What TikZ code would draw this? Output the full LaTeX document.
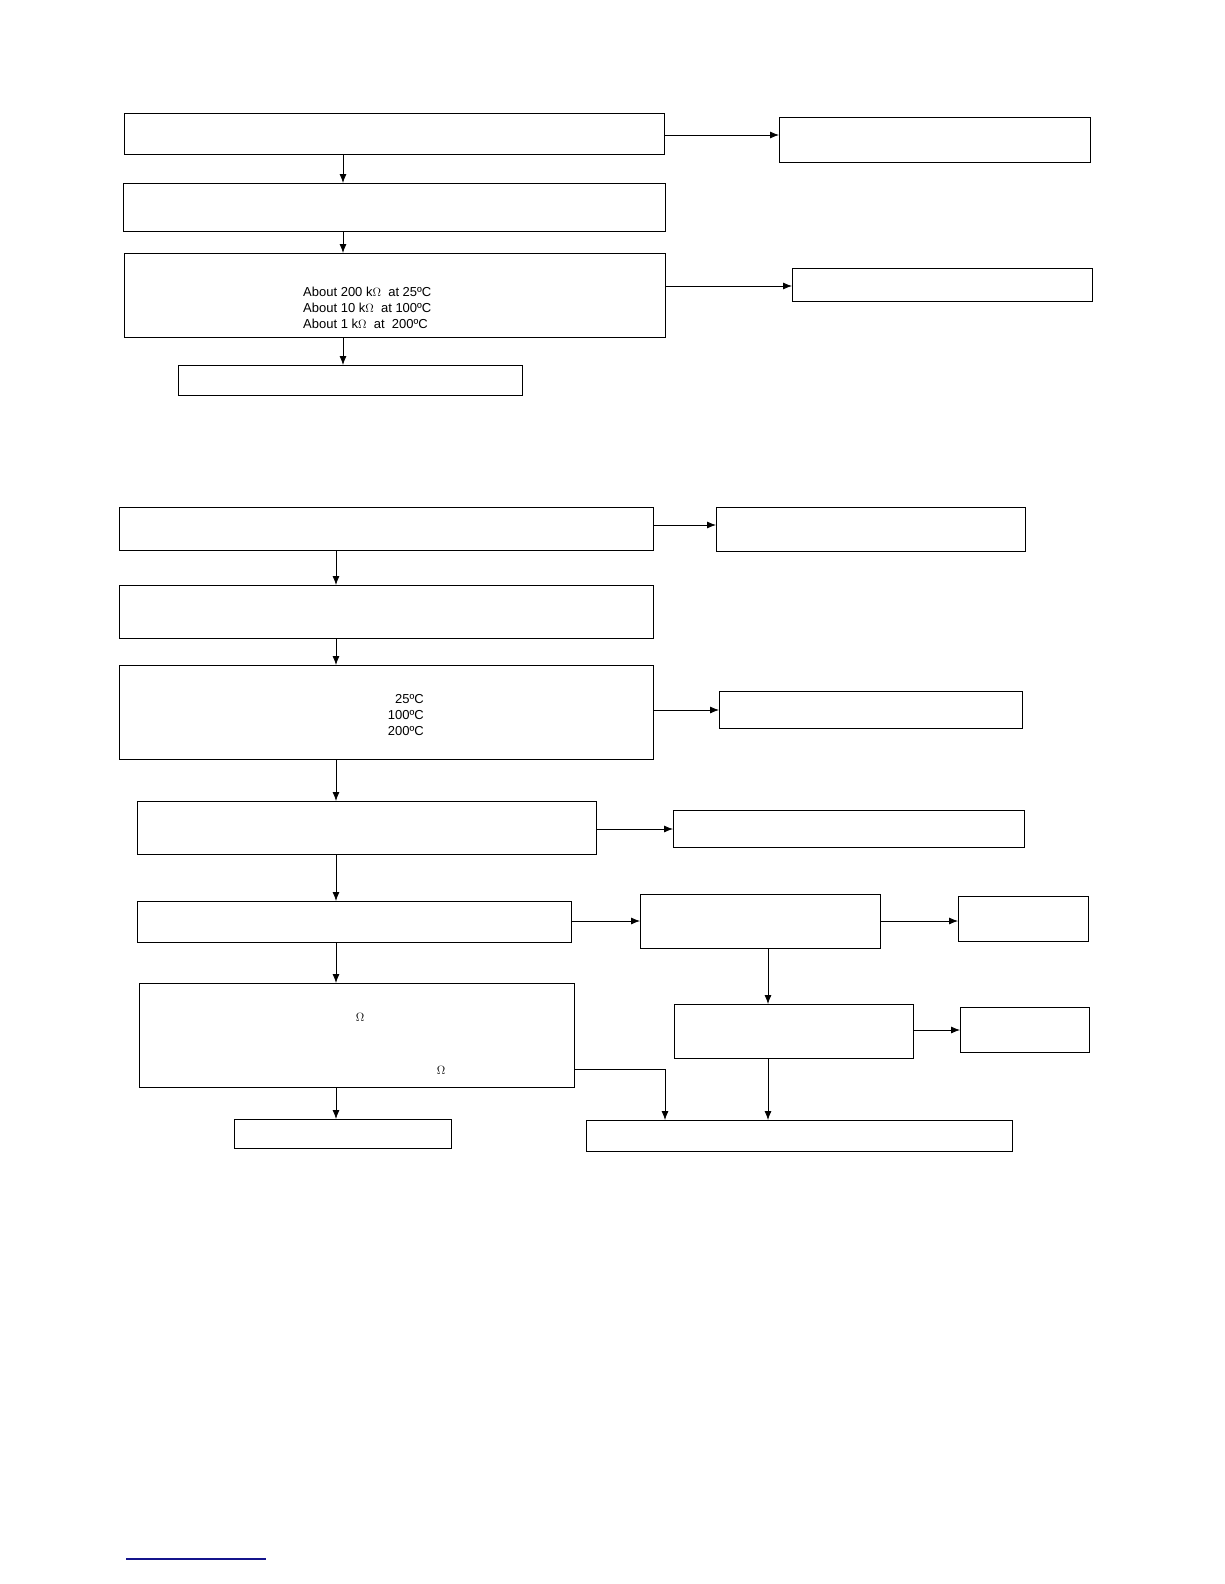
\documentclass[tikz,border=0pt]{standalone}
\usepackage{fontspec}
\setmainfont{Liberation Sans}
\usetikzlibrary{arrows.meta}
\tikzset{
  box/.style={draw, line width=0.8pt, inner sep=0pt, anchor=north west},
  arr/.style={line width=0.8pt, -{Latex[length=9pt,width=7pt]}},
  txt/.style={inner sep=0pt, font=\fontsize{13}{16}\selectfont}
}
\newcommand{\bx}[5]{\node[box, minimum width=#4-#2, minimum height=#5-#3] (#1) at (#2,#3) {};}
\begin{document}
\begin{tikzpicture}[x=1pt,y=-1pt]
\useasboundingbox (0,0) rectangle (1224,1584);
\bx{A1}{124}{113}{664}{154}
\bx{A1r}{779}{117}{1090}{162}
\bx{A2}{123}{183}{665}{231}
\bx{A3}{124}{253}{665}{337}
\bx{A3r}{792}{268}{1092}{301}
\bx{A4}{178}{365}{522}{395}
\coordinate (xa) at (343,0);
\draw[arr] (A1.south -| xa) -- (A2.north -| xa);
\draw[arr] (A2.south -| xa) -- (A3.north -| xa);
\draw[arr] (A3.south -| xa) -- (A4.north -| xa);
\coordinate (ya) at (0,135);
\draw[arr] (A1.east |- ya) -- (A1r.west |- ya);
\coordinate (yb) at (0,286);
\draw[arr] (A3.east |- yb) -- (A3r.west |- yb);
\node[txt, anchor=west, align=left] (t1) at (303,308) {About 200 k$\Omega$\ \ at 25ºC\\About 10 k$\Omega$\ \ at 100ºC\\About 1 k$\Omega$\ \ at\ \ 200ºC};

\bx{B1}{119}{507}{653}{550}
\bx{B1r}{716}{507}{1025}{551}
\bx{B2}{119}{585}{653}{638}
\bx{B3}{119}{665}{653}{759}
\bx{B3r}{719}{691}{1022}{728}
\bx{B4}{137}{801}{596}{854}
\bx{B4r}{673}{810}{1024}{847}
\bx{B5}{137}{901}{571}{942}
\bx{B5m}{640}{894}{880}{948}
\bx{B5r}{958}{896}{1088}{941}
\bx{B6}{139}{983}{574}{1087}
\bx{B6m}{674}{1004}{913}{1058}
\bx{B6r}{960}{1007}{1089}{1052}
\bx{B7}{234}{1119}{451}{1148}
\bx{B7r}{586}{1120}{1012}{1151}
\coordinate (xb) at (336,0);
\draw[arr] (B1.south -| xb) -- (B2.north -| xb);
\draw[arr] (B2.south -| xb) -- (B3.north -| xb);
\draw[arr] (B3.south -| xb) -- (B4.north -| xb);
\draw[arr] (B4.south -| xb) -- (B5.north -| xb);
\draw[arr] (B5.south -| xb) -- (B6.north -| xb);
\draw[arr] (B6.south -| xb) -- (B7.north -| xb);
\coordinate (y1) at (0,525);
\draw[arr] (B1.east |- y1) -- (B1r.west |- y1);
\coordinate (y3) at (0,710);
\draw[arr] (B3.east |- y3) -- (B3r.west |- y3);
\coordinate (y4) at (0,829);
\draw[arr] (B4.east |- y4) -- (B4r.west |- y4);
\coordinate (y5) at (0,921);
\draw[arr] (B5.east |- y5) -- (B5m.west |- y5);
\draw[arr] (B5m.east |- y5) -- (B5r.west |- y5);
\coordinate (y6) at (0,1030);
\draw[arr] (B6m.east |- y6) -- (B6r.west |- y6);
\coordinate (xm) at (768,0);
\draw[arr] (B5m.south -| xm) -- (B6m.north -| xm);
\draw[arr] (B6m.south -| xm) -- (B7r.north -| xm);
\coordinate (y7) at (0,1069);
\coordinate (x7) at (665,0);
\draw[arr] (B6.east |- y7) -- (x7 |- y7) -- (B7r.north -| x7);
\node[txt, anchor=east, align=right] (t2) at (424,715) {25ºC\\100ºC\\200ºC\ };
\node[txt] (o1) at (360,1017) {$\Omega$};
\node[txt] (o2) at (441,1070) {$\Omega$};
\draw[draw={rgb,255:red,20;green,20;blue,140}, line width=1.2pt] (126,1559) -- (266,1559);
\end{tikzpicture}
\end{document}
